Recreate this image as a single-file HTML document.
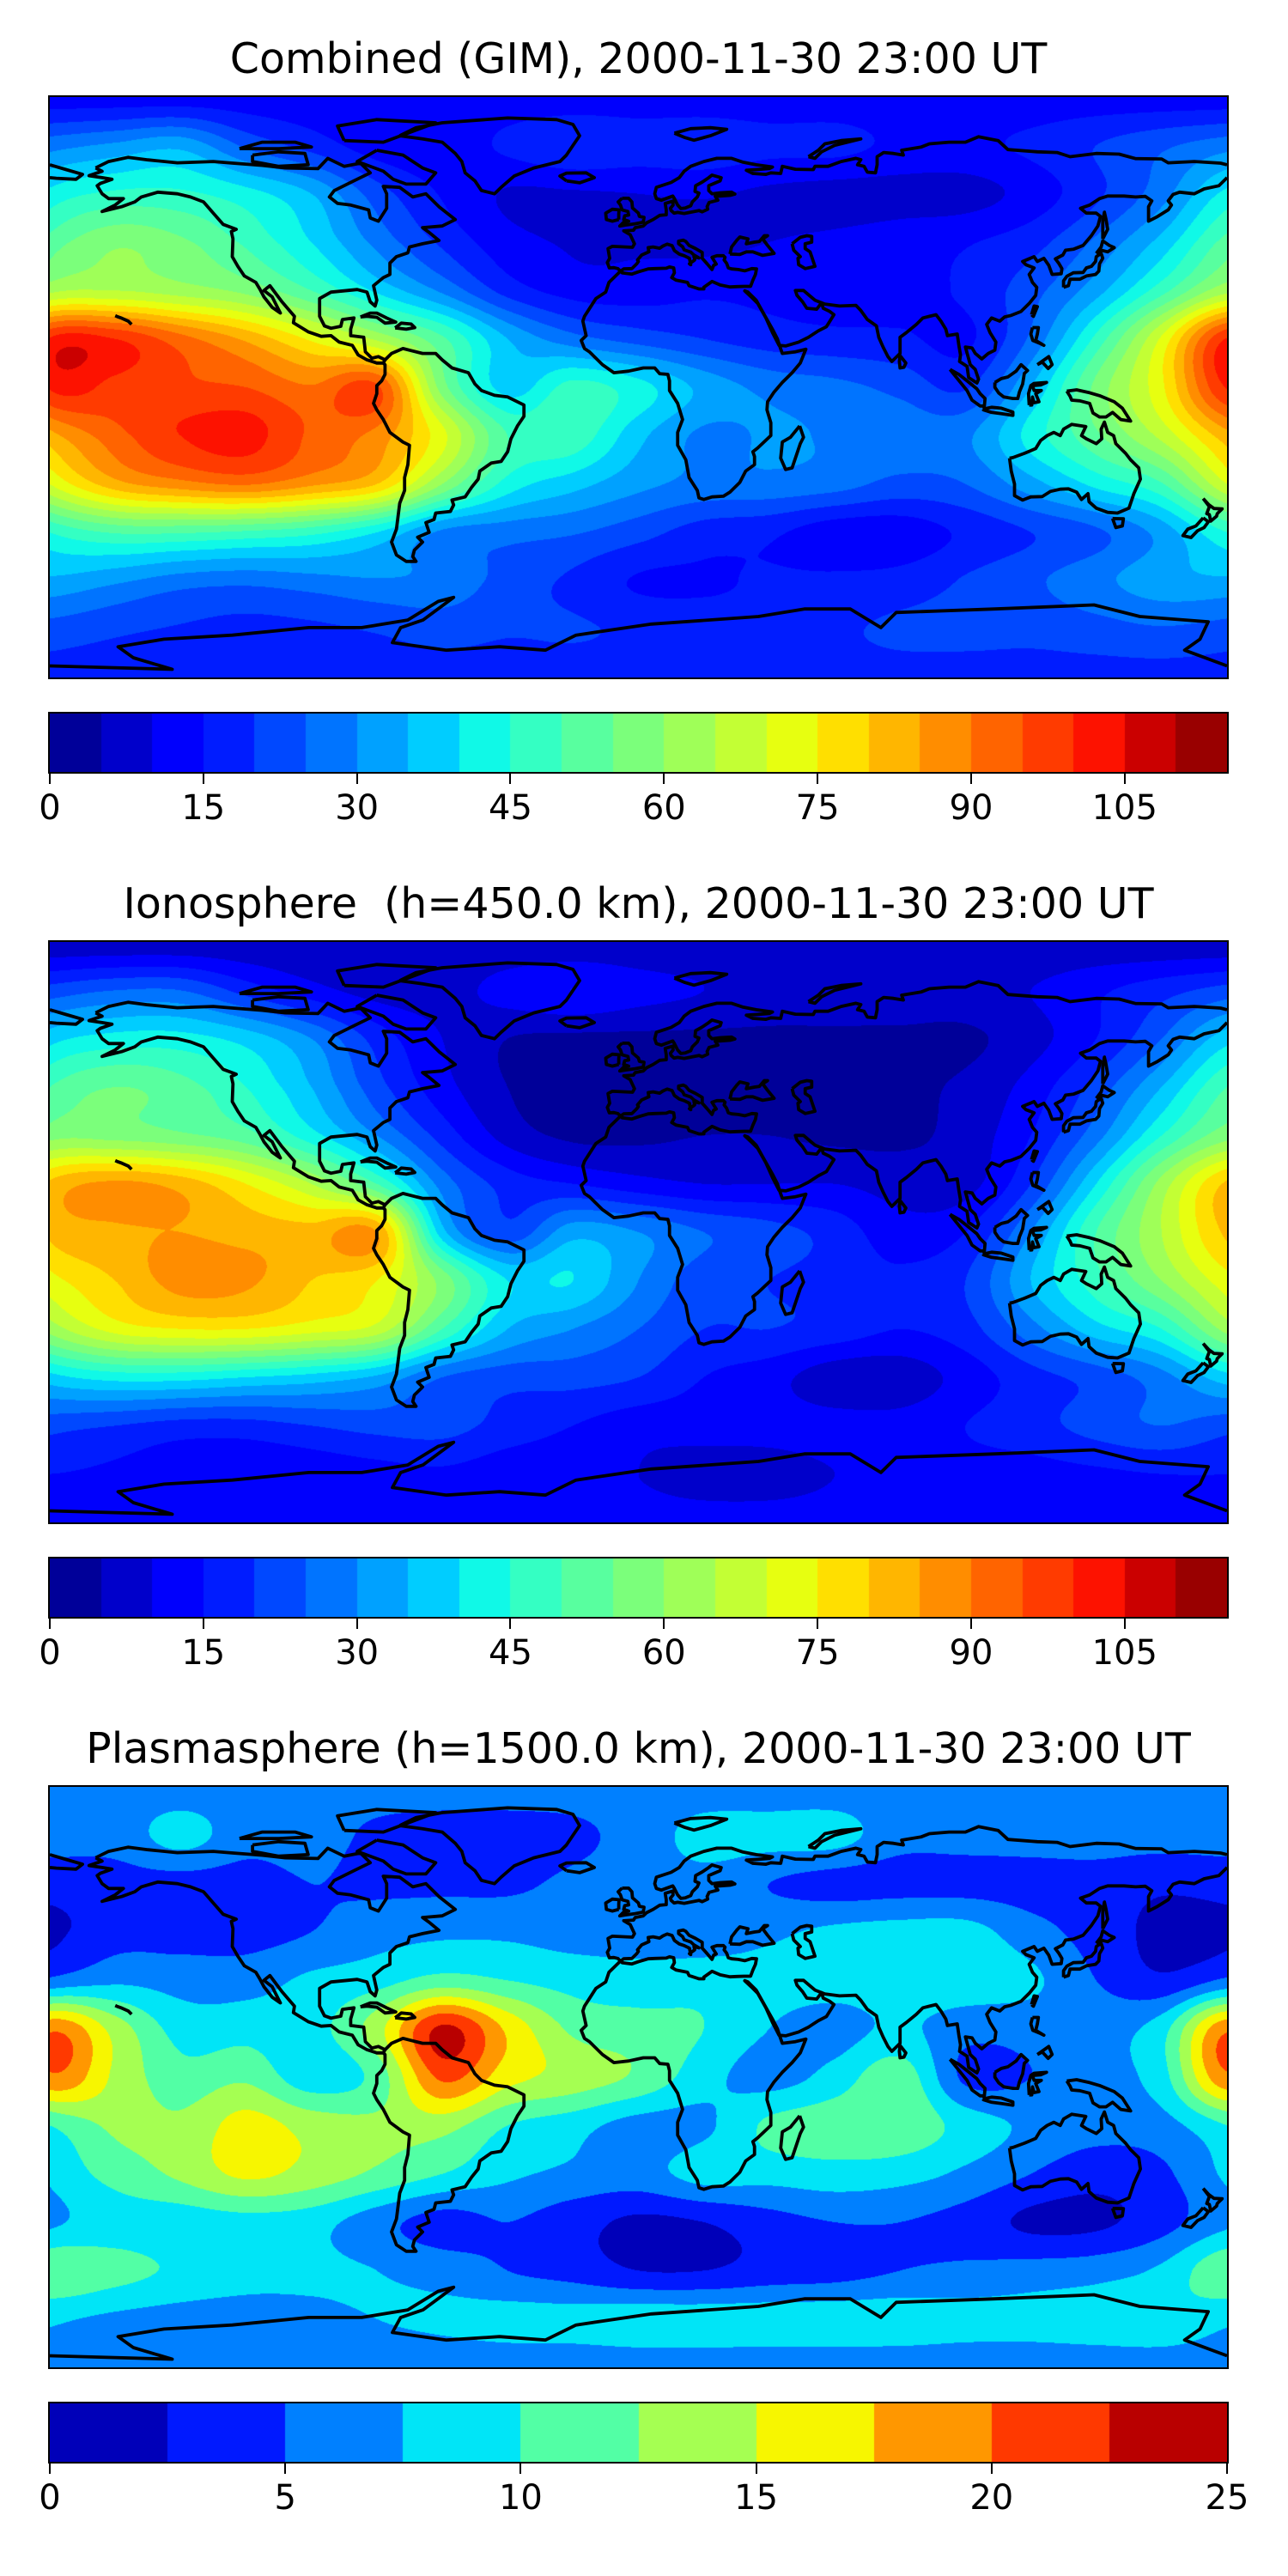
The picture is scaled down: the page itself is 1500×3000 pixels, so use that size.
<!DOCTYPE html>
<html><head><meta charset="utf-8">
<style>
body{margin:0;background:#fff;width:1500px;height:3000px;position:relative;overflow:hidden;font-family:"DejaVu Sans","Liberation Sans",sans-serif;}
.title{position:absolute;left:0;width:1487px;text-align:center;font-size:49px;white-space:pre;line-height:1;}
.map{position:absolute;left:58px;width:1371px;height:676px;}
.map canvas,.map svg{position:absolute;left:0;top:0;}
.frame{position:absolute;left:-2px;top:-2px;width:1371px;height:676px;border:2px solid #000;}
.cb{position:absolute;left:58px;width:1371px;height:68px;}
.cb canvas{position:absolute;left:0;top:0;}
.tick{position:absolute;width:2px;height:13px;background:#000;}
.tl{position:absolute;font-size:40px;transform:translateX(-50%);line-height:1;}
</style></head>
<body>
<div id="root"></div>
<script>
// ---- data: grids of value at lat 90..-90 (15 deg), lon -180..180 (20 deg)
const lats=[90,75,60,45,30,15,0,-15,-30,-45,-60,-75,-90];
const lons=[-180,-160,-140,-120,-100,-80,-60,-40,-20,0,20,40,60,80,100,120,140,160,180];
const ionoGrid=[
[6,6,6,6,6,6,6,6,6,6,6,6,6,6,6,6,6,6,6],
[22,25,25,18,12,8,8,12,15,12,10,8,8,8,8,10,14,18,22],
[38,42,42,38,30,18,10,5,4,4,4,4,4,4,4,8,15,25,38],
[50,55,52,45,35,22,12,5,3,3,3,3,3,4,6,12,22,35,50],
[58,58,56,52,42,30,18,8,4,4,5,5,4,4,7,15,28,45,58],
[81,86,83,75,65,50,28,18,15,12,10,10,10,8,8,20,40,62,81],
[81,84,85,83,82,85,37,22,33,30,25,22,18,12,15,30,50,65,81],
[73,80,87,86,80,75,58,40,40,30,22,20,18,16,20,35,48,60,73],
[62,72,75,75,72,68,50,35,30,25,20,20,18,15,18,28,38,45,62],
[38,42,42,40,38,34,25,22,22,20,15,12,7,7,12,18,22,28,38],
[22,20,18,18,20,22,22,18,15,12,12,12,12,12,15,18,22,25,22],
[15,14,13,12,12,13,14,12,12,10,8,8,10,12,13,13,14,15,15],
[12,12,12,12,12,12,12,12,12,12,12,12,12,12,12,12,12,12,12]];
const plasmaGrid=[
[6,6,6,6,6,6,6,6,6,6,6,6,6,6,6,6,6,6,6],
[6,6,8.5,6,6,4.5,4,4,4.5,6,8.5,8.5,8.5,6,6,6,6,6,6],
[3.5,4,4,4,5,4.5,4.5,4.5,5.5,6,6.5,5,4,4,4,4,4,3,3.5],
[2,4,4,4,5,6.5,7,7,6.5,6.5,6,7,8,8.5,8.5,6,4,1.8,2],
[5.5,7,6.5,6.5,8,9,11,10,9,8.5,9,8.5,8.5,9,9,8,5,3,5.5],
[19.5,14,9,9,9,14,23,17,12,11,10,7.5,6.5,8,6,6,6.5,9,19.5],
[19.5,14.5,11,12,8.5,11,20.5,16,14,12,8.5,6.5,8.5,11.5,4.5,5,6.5,9,19.5],
[10,13,13,16,14,13,13.5,10,8.5,6.5,7,10.5,11.5,12,9,7,6,6.5,10],
[8,11,13,15.5,14,12,10,8,7,6.5,8.5,8.5,9,8.5,7,5,3.5,4.5,8],
[7,8.5,8.5,9,8.5,6,4,5,3.5,2,2.5,4,5,5,4,2,2,4,7],
[12,11,9.5,8.5,8,7.5,6.5,5,4,2.5,2.5,3.5,4,5,5.5,6,6.5,8,12],
[8,7,6.5,6.5,7,7.5,8,8.5,8.5,9,9,9,9,9,8.5,8.5,9,9.5,8],
[6,6,6,6,6,6,6,6,6,6,6,6,6,6,6,6,6,6,6]];
const ticksGim=[0,15,30,45,60,75,90,105];
const ticksPlasma=[0,5,10,15,20,25];
const titles=["Combined (GIM), 2000-11-30 23:00 UT","Ionosphere  (h=450.0 km), 2000-11-30 23:00 UT","Plasmasphere (h=1500.0 km), 2000-11-30 23:00 UT"];

// ---- coastlines (lon,lat)
const coasts=[
[[-166,68],[-162,70],[-156,71.3],[-150,70.5],[-141,69.6],[-130,70],[-124,69.5],[-115,68.8],[-108,68],[-98,67.8],[-95,71],[-90,68.5],[-85,69.5],[-82,66.5],[-87,64],[-93,61],[-94.5,59],[-92,57],[-88,56.5],[-82.5,55],[-82,52.5],[-79.5,51.5],[-77,55.5],[-77,60],[-78,62.3],[-73,62],[-69,59],[-65,60],[-61,56],[-56,52],[-60,50],[-66,49.5],[-64,48],[-61,45.5],[-66,44.5],[-70,43.5],[-70.5,41.7],[-74,40.5],[-76,38.5],[-76,35],[-78,34],[-81,31.5],[-80,27],[-80.5,25.2],[-82,26.5],[-83,29.5],[-86,30.3],[-89,30],[-94,29.5],[-97.5,27.5],[-97.5,22],[-96,19],[-94,18.3],[-91,18.9],[-90.5,21],[-87,21.5],[-88,18],[-88,16],[-84,15.5],[-83.5,11],[-81.5,9],[-79.5,9.5],[-77.5,8.5],[-78,7.5],[-80,7.5],[-83,8.5],[-85.7,10],[-87.5,13],[-91.5,14],[-94,16],[-97,15.8],[-101,17.2],[-105.5,20],[-105.2,22],[-109,26.5],[-112.7,31.5],[-114.5,30],[-112,28],[-110,24],[-109.5,23],[-112,24.8],[-114.5,28],[-115.8,30.5],[-117,32.5],[-120.5,34.5],[-122.5,37.5],[-124.2,40.5],[-124,46],[-124.5,48.3],[-123,49],[-127,50.5],[-130,54],[-133,57.5],[-137,59],[-141,60],[-147,60.5],[-152,59],[-154,57.5],[-158,56],[-162,55],[-164,54.5],[-160,56.5],[-157.5,58.5],[-162,58.5],[-164,60],[-165.5,62.5],[-164.5,63.2],[-161,64.5],[-164,65],[-168,65.6],[-164,67],[-166,68]],
[[-73,78],[-68,80.5],[-60,82],[-40,83.5],[-25,83],[-20,81.5],[-18,78],[-20,75],[-22,72],[-24,70],[-32,68],[-38,65.5],[-42,62],[-44,60],[-48,61],[-50,64],[-53,66.5],[-54,70],[-56,72.5],[-60,76],[-66,77],[-73,78]],
[[-80,73.5],[-72,72],[-66,68],[-62,66.5],[-65,63],[-71,63],[-75,64.5],[-78,67],[-86,70],[-80,73.5]],
[[-118,72],[-110,73],[-102,72.5],[-101,69],[-110,68.5],[-118,70],[-118,72]],
[[-90,76.5],[-78,76],[-70,79],[-62,82],[-80,83],[-92,81],[-90,76.5]],
[[-122,74],[-115,76],[-105,76],[-100,74.5],[-110,74],[-122,74]],
[[-77.5,8.5],[-75.5,10.5],[-72,12],[-70,11.5],[-66,10.5],[-62,10.5],[-60,8.5],[-57,6],[-52,4.5],[-50,1],[-48,-1],[-44,-2.5],[-40,-3],[-35,-5.5],[-35,-9],[-37,-12],[-39,-16],[-40,-20],[-42,-23],[-45,-23.5],[-48.5,-26],[-49,-28.5],[-51,-31],[-53,-34],[-57,-35],[-56.5,-36.5],[-57.5,-38.5],[-62,-39],[-62.5,-41],[-65,-42],[-64,-45],[-67.5,-46.5],[-66,-48],[-68.5,-50.5],[-69,-52.5],[-68,-54],[-71,-54],[-74,-52],[-75.5,-48],[-74,-44],[-73.5,-40],[-73,-36],[-71.5,-32],[-71.5,-28],[-70.5,-24],[-70,-18],[-72,-17],[-76,-14],[-78,-10],[-80,-7],[-81,-5],[-80,-2],[-80,0.5],[-78.5,2],[-77.5,4],[-77.5,7],[-78,7.5]],
[[-5.5,36],[-9,32.5],[-10,29.5],[-13,27.5],[-16.5,22],[-17,20.5],[-16,16],[-17.5,14.5],[-16.5,12],[-15,11],[-13,9],[-11,7],[-7.5,4.5],[-3,5],[1.5,6],[5,6],[6.5,4.2],[9,4],[9.5,2],[9.5,-1],[12,-5],[13.5,-10],[12,-14],[12,-18],[14.5,-22.5],[15.5,-28],[18,-32],[18.5,-34.3],[20,-34.8],[22.5,-34],[26,-33.8],[28,-32.5],[31,-29.5],[32.8,-26],[35.5,-24],[35.5,-21.5],[35,-20],[36.5,-18.8],[40.5,-15],[40.5,-11],[39.3,-7],[39.5,-4.5],[41.5,-1.5],[44,1.5],[47,4.5],[49.5,7.5],[51.2,11.8],[48,11],[44,10.5],[43.3,12.5],[42.5,15],[41,18],[38.5,22.5],[36,27],[33.5,29.5],[32.5,29.9],[34.5,28],[36.5,26],[39,21.5],[41,17],[43,13],[45,12.8],[49,14],[52,15.5],[55,17.5],[57.5,18.8],[59.8,22.5],[58.5,23.5],[56.5,24.5],[56,26.2],[54.5,24.2],[51.5,24.5],[50.2,26.5],[48.5,28.5],[48,30],[50.5,30],[54,27],[57,25.8],[61.5,25.2],[66.5,25.4],[68,23.8],[70,21],[72.8,19],[73.5,15.5],[74.8,12.5],[76.3,9.5],[77.5,8],[78.5,9],[80,10.5],[80,15.5],[82,17],[85,19.5],[87,21.5],[89,22],[91,22.5],[92.5,20.5],[94,18],[94.5,16],[97.5,16.5],[98,13],[98.5,10],[98.2,8],[100.5,6.5],[101,3],[103.5,1.3],[104,2.5],[103,5.5],[101.5,7],[100,12.5],[102,12.2],[103,10.5],[105,8.8],[107,10.5],[109,11.5],[109.3,14],[107.5,17],[106.5,19.5],[108,21.5],[110.5,20.5],[112,21.8],[114,22.3],[117,23.5],[119.5,26],[121.5,28.5],[121.8,31],[120.5,32.5],[119.5,35],[121,37],[118.5,38],[117.5,39],[121,40.5],[122,39],[124,40],[125.5,37.8],[126.5,35],[129.3,35.2],[129.5,36.8],[128.5,38.5],[127.5,39.8],[129.8,41],[130.6,42.5],[133,42.8],[136,44],[138.5,47],[140.5,50],[141.3,53],[140,54],[137,54],[135.2,55.5],[138,56.5],[141,58.5],[143.5,59.3],[148.5,59.3],[152,59],[155,59.2],[157,57.8],[156,56],[156,51.5],[158.5,52.8],[162,55],[163,56.5],[162,57.8],[163.5,59.8],[165.5,60.5],[170,60],[173,61.5],[177.5,62.5],[179.5,64.5],[180,65]],
[[180,69],[178,69.5],[170,70],[162,69.6],[160,70.8],[152,70.9],[147,72.3],[140,72.5],[132,71.5],[128,72.8],[122,73],[113,73.7],[110,76.5],[104,77.7],[100,76],[95,76],[89,75.5],[86.5,74.5],[80.5,73.5],[81,72],[78,72.5],[75,72.8],[73,71.5],[73,69],[72.5,66.5],[70,66.7],[69,68.5],[67,69],[68,70.6],[66.5,71],[62,70],[58,68.5],[54,68.5],[53.5,67.5],[48,67.6],[44,68.5],[43.5,66.3],[40.5,66.5],[39,66],[35,66.3],[33,67.3],[40,67.8],[41,68.3],[36,69],[32,69.8],[28.5,71],[24,71],[20,70],[16,68.5],[14,67],[12.5,65],[10,63.5],[5.5,62],[5,60],[5.5,58.5],[7,58],[10.5,59.3],[11,58.5],[12,56.5],[13,55.4],[14.3,55.6],[16,56.3],[16.5,57.5],[18,59],[18.5,60.2],[17.3,60.7],[17.5,62.5],[19.5,63.6],[21.5,65],[22.5,65.8],[25.3,65],[25,64],[21.5,62.5],[21.5,61],[22.5,60],[25,60.3],[28.5,60.5],[29.5,59.9],[28,59.5],[23.5,59.2],[24.3,58],[21.6,57.3],[21,56],[21.2,55.2],[19.5,54.4],[18.5,54.8],[16,54.3],[14,53.9],[12,54.2],[10.9,54],[10,54.8],[9.8,55.5],[10.6,56.5],[10.5,57.7],[8.2,57],[8.5,55],[8.5,53.5],[6.5,53.3],[4.5,52],[2.5,51],[1.5,50],[-1,49.5],[-1.5,48.7],[-4.5,48.5],[-2.5,47.3],[-1.2,44.5],[-1.8,43.4],[-8,43.7],[-9.3,43],[-8.8,40],[-9.5,38.7],[-8.9,37],[-7.5,37.1],[-6.3,36.8],[-5.5,36]],
[[-5.5,36],[-4.5,36.7],[-2,36.8],[-0.5,38.3],[0,39],[-0.3,39.5],[1,41],[3.2,42],[3,43.3],[4.5,43.5],[6.5,43.1],[7.5,43.8],[8.8,44.4],[10.3,43.9],[11,42.4],[12.5,41.3],[14,40.8],[15.6,40],[16,38],[15.6,38.3],[16.6,39],[17.2,39.5],[17,40.5],[18.5,40.1],[17,41],[16,41.9],[14,42.6],[13.5,43.6],[12.3,44.5],[12.3,45.3],[13.7,45.6],[14.5,45.2],[15.5,44],[17.5,43],[19.5,41.8],[19.5,40],[21,38.3],[22.5,36.5],[23,37.8],[23.8,38.2],[22.5,40.3],[24,40.8],[26,40.8],[26.5,40.3],[26.2,39.5],[27,38.4],[27.5,37],[28.5,36.7],[30.5,36.5],[32.5,36.1],[34.7,36.8],[36.1,36.7],[35.8,35],[35,33.2],[34.3,31.3],[32.3,31.3],[30,31.2],[28,31.1],[25,31.7],[22.5,32.8],[20,31],[20,30.5],[18.5,30.5],[15.5,31.5],[15,32.5],[11.5,33.2],[10.2,34],[11,35.5],[10.8,37],[9.5,37.3],[8.5,36.9],[5,36.8],[3,36.7],[0,35.8],[-2,35.1],[-5,35.5],[-5.5,36]],
[[28,41.3],[28.5,43.5],[30,45.5],[31,46.6],[33.5,46],[33,44.5],[35.5,45],[37,45.2],[38.5,47],[39.5,47],[38,46],[39.5,44],[41.5,41.5],[38,40.9],[35,42],[33,42],[31,41.2],[28,41.3]],
[[47,44.5],[49.5,46.5],[51.5,47],[53,46.8],[53,45],[51,44.5],[51,43],[52.5,42],[53,40.5],[54,37.5],[51,36.8],[49,38],[48.8,40],[49.5,40.5],[47.5,42.5],[47,44.5]],
[[-5,58.6],[-3,58.6],[-2,57.5],[-1.8,55.6],[0,54],[0.3,53],[1.7,52.7],[1.5,51.2],[-1,50.7],[-4,50.3],[-5.7,50],[-4.5,51.2],[-3,51.5],[-4.5,52],[-4.2,53.2],[-3,53.4],[-3.2,54.5],[-5,55],[-5.5,56.5],[-6.2,57.5],[-5,58.6]],
[[-6,52],[-6,53.8],[-5.9,55],[-8,55.2],[-10,54],[-9.8,52],[-8,51.5],[-6,52]],
[[-22,64],[-24,65.5],[-22,66.4],[-16,66.5],[-13.5,65],[-18,63.4],[-22,64]],
[[49.3,-12],[50.5,-15.5],[49.5,-17.5],[48,-22],[47,-25],[45,-25.5],[43.5,-22],[44,-17],[46.5,-15.5],[49.3,-12]],
[[80,9.8],[81.8,7.5],[81.2,6.2],[80,6],[79.8,8],[80,9.8]],
[[130,31],[131.5,31.5],[132,33.5],[135,33.5],[137,34.5],[139.8,35],[140.8,36],[141,38.3],[142,40],[141.5,41.5],[140,40.5],[139.8,39],[138.5,37.5],[137,37],[136,35.6],[133,35.5],[131,34.4],[130,33],[130,31]],
[[140,41.5],[141.5,42.5],[143.5,42],[145.5,43.3],[144,44],[142,45.4],[141.5,43.5],[140,41.5]],
[[142,46],[143.5,49],[143,52],[142.5,54.3],[142,51.5],[142,46]],
[[120.5,18.5],[122.3,18.5],[122,16.5],[121.5,14.5],[124,13],[123,13.5],[120.6,14.5],[120,16.5],[120.5,18.5]],
[[122,7],[125.5,9.5],[126.5,7],[125.3,5.8],[123.5,7.8],[122,7]],
[[120.2,22.5],[121,25.2],[122,25],[120.8,22],[120.2,22.5]],
[[109,1.5],[111,2.7],[113,3.2],[115.5,5],[117,7],[119,5.2],[118,4.3],[117.5,1],[116.5,-1.5],[116,-3.5],[114.5,-3.5],[111.7,-3],[110.2,-1.8],[109,0],[109,1.5]],
[[95.3,5.5],[98,4],[100.5,2],[103.5,-0.5],[104.5,-2],[106,-3.5],[105.8,-5.8],[104.5,-5.8],[102,-4],[100.5,-1],[98.5,1.5],[95.3,5.5]],
[[105.3,-6.8],[108,-6.2],[111,-6.5],[114.5,-7.7],[114.5,-8.7],[111,-8.2],[108,-7.8],[105.5,-7],[105.3,-6.8]],
[[119.5,-5.5],[119.3,-2],[120,0.5],[121,1.2],[124.8,1.5],[123,0.7],[120.5,0.5],[121,-1],[123.2,-1],[121.5,-2],[122.5,-4.5],[121,-4.8],[120.5,-3],[120.3,-5.5],[119.5,-5.5]],
[[131,-1.2],[134,-0.8],[138,-1.7],[141,-2.6],[145.5,-4.5],[148,-6.5],[150.5,-10.5],[147.5,-10],[145,-7.8],[143,-9.2],[141,-9.2],[139,-8],[138,-5],[135,-4.2],[132.5,-4],[132,-2.8],[131,-1.2]],
[[113.5,-22],[114,-26],[115,-30],[115,-33.6],[117.5,-35],[120,-34],[123.5,-33.9],[126,-32.3],[129,-31.6],[131.5,-31.5],[134,-32.5],[135.5,-34.8],[137.5,-33],[137.8,-35.5],[140,-37.5],[143.5,-38.8],[146.5,-39],[150,-37.5],[151.5,-33],[153.5,-28.5],[153,-25],[150.5,-22.5],[149,-20.5],[146,-17.5],[145.3,-15],[143.5,-14],[142.5,-10.8],[141.5,-13],[141.7,-16],[140,-17.5],[137,-16],[135.5,-15],[136.8,-12.2],[132.5,-11.5],[130,-13],[129,-15],[127,-14],[125,-15],[123,-16.5],[121.5,-19],[118,-20.5],[114.5,-21.8],[113.5,-22]],
[[145,-40.7],[148.3,-40.8],[148,-43],[146,-43.5],[145,-40.7]],
[[172.7,-34.5],[174.5,-36.5],[176,-37.6],[178.5,-37.7],[177,-39.2],[176.8,-40],[175,-41.5],[174.6,-39.5],[173.8,-39.2],[174.6,-37],[172.7,-34.5]],
[[172.7,-40.5],[174.3,-41.7],[173,-43.5],[171,-44.5],[169,-46.6],[166.5,-46],[168,-44],[170.5,-43],[172.7,-40.5]],
[[-85,21.8],[-82,23],[-80,23],[-77,21.5],[-74.2,20.2],[-77.5,19.9],[-80,21.7],[-83,22],[-85,21.8]],
[[-74.4,18.4],[-72.5,19.9],[-69.5,19.6],[-68.4,18.5],[-71,18],[-74.4,18.4]],
[[52,71.5],[55,73.5],[57,75.5],[62,76.5],[68,77],[60,75],[56,73],[54,71],[52,71.5]],
[[11,78.8],[16,80.2],[22,80.5],[27,80],[22,78],[17,76.6],[14,77.5],[11,78.8]],
[[-180,69],[-175,67.5],[-170,66],[-172,64.5],[-178,64.8],[-180,65]],
[[-160,22.2],[-159.3,21.9],[-158,21.4],[-156,20.5],[-155,19.5]]
];
// Antarctic coast traced in normalized map coordinates (fraction of width, fraction of height)
const antarctic=[[0,0.98],[0.052,0.983],[0.104,0.986],[0.071,0.966],[0.058,0.947],[0.097,0.934],[0.155,0.927],[0.220,0.914],[0.265,0.914],[0.304,0.901],[0.330,0.869],[0.343,0.862],[0.317,0.901],[0.298,0.914],[0.291,0.940],[0.337,0.953],[0.382,0.947],[0.421,0.953],[0.447,0.927],[0.511,0.908],[0.602,0.895],[0.641,0.882],[0.680,0.882],[0.706,0.914],[0.719,0.888],[0.803,0.882],[0.887,0.875],[0.926,0.895],[0.984,0.904],[0.977,0.934],[0.964,0.953],[1,0.980]];

function seg(x,stops){for(let i=1;i<stops.length;i++){if(x<=stops[i][0]){const a=stops[i-1],b=stops[i];return a[1]+(b[1]-a[1])*(x-a[0])/(b[0]-a[0]);}}return stops[stops.length-1][1];}
function jet(x){return [seg(x,[[0,0],[0.35,0],[0.66,1],[0.89,1],[1,0.5]]),seg(x,[[0,0],[0.125,0],[0.375,1],[0.64,1],[0.91,0],[1,0]]),seg(x,[[0,0.5],[0.11,1],[0.34,1],[0.65,0],[1,0]])].map(v=>Math.round(v*255));}
function cr(p0,p1,p2,p3,t){return 0.5*(2*p1+(-p0+p2)*t+(2*p0-5*p1+4*p2-p3)*t*t+(-p0+3*p1-3*p2+p3)*t*t*t);}
function sample(g,u,v){
  const nc=lons.length-1,nr=lats.length-1;
  const c=Math.floor(u),r=Math.floor(v),tu=u-c,tv=v-r;
  const row=k=>{const rr=Math.max(0,Math.min(nr,k));const G=g[rr];const q=j=>G[((j%nc)+nc)%nc];return cr(q(c-1),q(c),q(c+1),q(c+2),tu);};
  return cr(row(r-1),row(r),row(r+1),row(r+2),tv);
}
const W=1371,H=676,CBH=68;
const root=document.getElementById('root');
const panels=[
 {grid:(u,v)=>sample(ionoGrid,u,v)+sample(plasmaGrid,u,v),step:5,n:23,ticks:ticksGim,name:'combined-gim'},
 {grid:(u,v)=>sample(ionoGrid,u,v),step:5,n:23,ticks:ticksGim,name:'ionosphere'},
 {grid:(u,v)=>sample(plasmaGrid,u,v),step:2.5,n:10,ticks:ticksPlasma,name:'plasmasphere'}];
const ns='http://www.w3.org/2000/svg';
panels.forEach((p,k)=>{
  const T=113+984*k;
  const colors=[];for(let i=0;i<p.n;i++)colors.push(jet((i+0.5)/p.n));
  const t=document.createElement('div');t.className='title';t.style.top=(T-69)+'px';t.textContent=titles[k];
  
  
  root.appendChild(t);
  const m=document.createElement('div');m.className='map';m.style.top=T+'px';
  
  
  const cv=document.createElement('canvas');cv.width=W;cv.height=H;
  
  
  const ctx=cv.getContext('2d');const img=ctx.createImageData(W,H);const d=img.data;
  const nc=lons.length-1,nr=lats.length-1;
  for(let y=0;y<H;y++){const v=(y+0.5)/H*nr;for(let x=0;x<W;x++){const u=(x+0.5)/W*nc;
    const val=p.grid(u,v);let i=Math.floor(val/p.step);if(i<0)i=0;if(i>=p.n)i=p.n-1;
    const c=colors[i],o=(y*W+x)*4;d[o]=c[0];d[o+1]=c[1];d[o+2]=c[2];d[o+3]=255;}}
  ctx.putImageData(img,0,0);m.appendChild(cv);
  const svg=document.createElementNS(ns,'svg');svg.setAttribute('width',W);svg.setAttribute('height',H);
  
  
  const draw=(pts)=>{const pl=document.createElementNS(ns,'polyline');
    pl.setAttribute('points',pts.map(q=>q[0].toFixed(1)+','+q[1].toFixed(1)).join(' '));
    pl.setAttribute('fill','none');pl.setAttribute('stroke','#000');pl.setAttribute('stroke-width','3.8');pl.setAttribute('stroke-linejoin','round');
    
    
    svg.appendChild(pl);};
  coasts.forEach(cs=>draw(cs.map(q=>[(q[0]+180)/360*W,(90-q[1])/180*H])));
  draw(antarctic.map(q=>[q[0]*W,q[1]*H]));
  m.appendChild(svg);
  const fr=document.createElement('div');fr.className='frame';
  
  
  m.appendChild(fr);
  root.appendChild(m);
  // colorbar
  const cb=document.createElement('div');cb.className='cb';cb.style.top=(T+718)+'px';
  
  
  const cc=document.createElement('canvas');cc.width=W;cc.height=CBH;const cx=cc.getContext('2d');
  for(let i=0;i<p.n;i++){const c=colors[i];cx.fillStyle='rgb('+c.join(',')+')';const x0=Math.round(i*W/p.n),x1=Math.round((i+1)*W/p.n);cx.fillRect(x0,0,x1-x0,CBH);}
  cb.appendChild(cc);
  const f2=document.createElement('div');f2.className='frame';f2.style.height=CBH+'px';
  
  
  cb.appendChild(f2);
  const vmax=p.step*p.n;
  p.ticks.forEach(tv=>{const x=tv/vmax*W;
    const tk=document.createElement('div');tk.className='tick';tk.style.left=(x-1)+'px';tk.style.top=(CBH+1)+'px';
    
    
    cb.appendChild(tk);
    const lb=document.createElement('div');lb.className='tl';lb.style.left=x+'px';lb.style.top=(CBH+22)+'px';lb.textContent=tv;
    
    
    cb.appendChild(lb);});
  root.appendChild(cb);
});
</script>
</body></html>
